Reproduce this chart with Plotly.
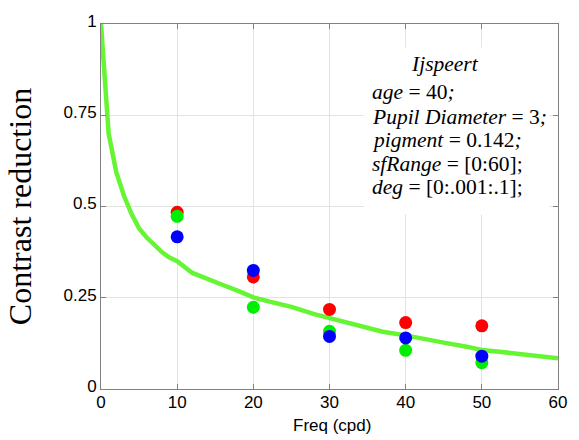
import plotly.graph_objects as go

# Ijspeert contrast-reduction model curve (frequency in cpd, reduction factor)
model_freq = [0, 1, 2, 3, 4, 5, 6, 7, 8, 9, 10, 12, 14, 16, 18, 20, 22, 25, 28, 30,
              33, 35, 37, 40, 42, 45, 48, 50, 52, 55, 58, 60]
model_val = [1.0, 0.70, 0.595, 0.53, 0.48, 0.44, 0.415, 0.395, 0.375, 0.36, 0.35,
             0.318, 0.30, 0.285, 0.269, 0.251, 0.24, 0.225, 0.205, 0.195, 0.177,
             0.167, 0.157, 0.147, 0.138, 0.127, 0.116, 0.107, 0.103, 0.096, 0.088, 0.084]

# Measured values per colour channel
meas_freq = [10, 20, 30, 40, 50]
red_vals = [0.484, 0.307, 0.218, 0.182, 0.173]
green_vals = [0.473, 0.224, 0.158, 0.106, 0.072]
blue_vals = [0.417, 0.325, 0.144, 0.140, 0.090]

x_ticks = [0, 10, 20, 30, 40, 50, 60]
y_ticks = [0, 0.25, 0.5, 0.75, 1]
y_tick_text = ["0", "0.25", "0.5", "0.75", "1"]

param_lines = [
    "<i>age</i> = 40<i>;</i>",
    "<i>Pupil Diameter</i> = 3<i>;</i>",
    "<i>pigment</i> = 0.142<i>;</i>",
    "<i>sfRange</i> = [0:60];",
    "<i>deg</i> = [0:.001:.1];",
]

fig = go.Figure()

fig.add_trace(go.Scatter(
    x=model_freq, y=model_val, mode="lines",
    line=dict(color="#66f533", width=4.5), showlegend=False, hoverinfo="skip"))

for vals, col in [(red_vals, "#ff0000"), (green_vals, "#00ee00"), (blue_vals, "#0000ff")]:
    fig.add_trace(go.Scatter(
        x=meas_freq, y=vals, mode="markers",
        marker=dict(color=col, size=13, line=dict(width=0)), showlegend=False))

# white panel behind the parameter text, over the grid
fig.add_shape(type="rect", xref="x", yref="y", x0=34.5, x1=58.9, y0=0.478, y1=0.935,
              fillcolor="white", line=dict(width=0), layer="between")

serif = "Liberation Serif, Times New Roman, serif"
sans = "Liberation Sans, Arial, sans-serif"
fig.add_annotation(xref="x", yref="y", x=45.2, y=0.89, text="<i>Ijspeert</i>",
                   showarrow=False, xanchor="center", yanchor="middle",
                   font=dict(family=serif, size=21.5, color="black"))
line_y = [0.815, 0.746, 0.682, 0.616, 0.554]
for txt, yy in zip(param_lines, line_y):
    fig.add_annotation(xref="x", yref="y", x=35.3, y=yy, text=txt,
                       showarrow=False, xanchor="left", yanchor="middle",
                       font=dict(family=serif, size=21.5, color="black"))

# x-axis title placed just under the tick labels
fig.add_annotation(xref="paper", yref="paper", x=0.505, y=-0.1, text="Freq (cpd)",
                   showarrow=False, xanchor="center", yanchor="middle",
                   font=dict(family=sans, size=17, color="black"))

axis_common = dict(
    showline=True, linecolor="#808080", linewidth=1, mirror="ticks",
    ticks="inside", ticklen=5, tickcolor="#808080", tickwidth=1,
    showgrid=True, gridcolor="#e3e3e3", gridwidth=1, zeroline=False,
    tickfont=dict(family=sans, size=17, color="black"),
)

fig.update_xaxes(range=[0, 60], tickvals=x_ticks, **axis_common, ticklabelstandoff=-2)
fig.update_yaxes(range=[0, 1], tickvals=y_ticks, ticktext=y_tick_text, **axis_common,
                 ticklabelshift=-3,
                 title=dict(text="Contrast reduction", standoff=22,
                            font=dict(family=serif, size=32, color="black")))

fig.update_layout(
    width=579, height=440,
    margin=dict(l=101, r=15, t=15, b=51),
    paper_bgcolor="white", plot_bgcolor="white",
)

fig.write_html("out.html")
